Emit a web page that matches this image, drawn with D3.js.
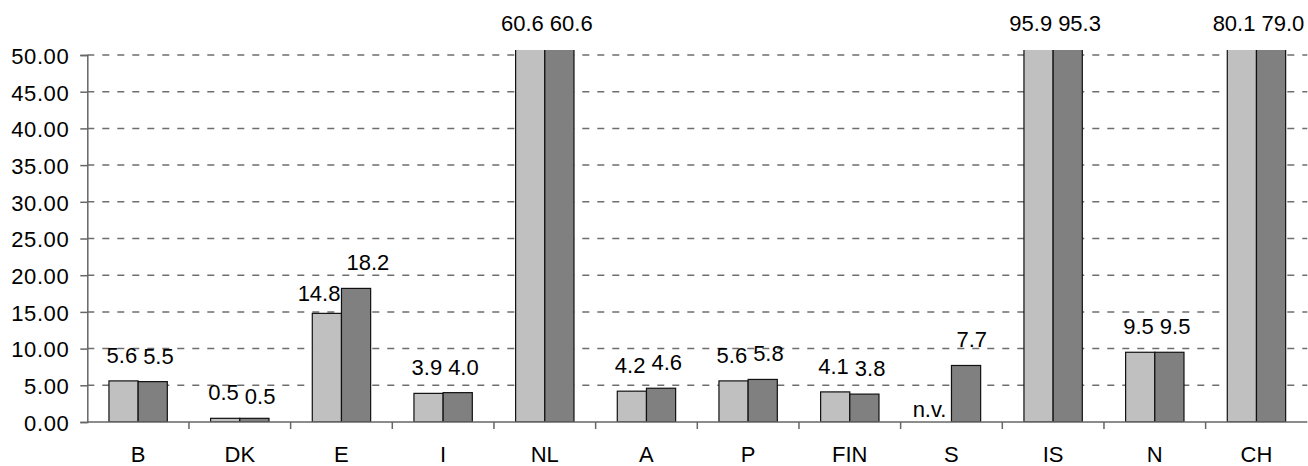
<!DOCTYPE html>
<html>
<head>
<meta charset="utf-8">
<script src="https://cdn.jsdelivr.net/npm/d3@7"></script>
<style>
  html, body { margin: 0; padding: 0; background: #fff; }
  svg { display: block; font-family: "Liberation Sans", Arial, sans-serif; }
</style>
</head>
<body>
<svg id="chart" width="1308" height="466"></svg>
<script>
// ---- data ----
const categories = ["B", "DK", "E", "I", "NL", "A", "P", "FIN", "S", "IS", "N", "CH"];
const series1 = [5.6, 0.5, 14.8, 3.9, 60.6, 4.2, 5.6, 4.1, null, 95.9, 9.5, 80.1];
const series2 = [5.5, 0.5, 18.2, 4.0, 60.6, 4.6, 5.8, 3.8, 7.7, 95.3, 9.5, 79.0];
const yTicks = [0, 5, 10, 15, 20, 25, 30, 35, 40, 45, 50];
const missingLabel = "n.v.";

// ---- layout ----
const W = 1308, H = 466;
const left = 87.3, right = 1307.3, y0px = 422, y50px = 55, clipTop = 50;
const colors = ["#c0c0c0", "#808080"];
const fs = 22;

const svg = d3.select("#chart");
const x = d3.scaleBand().domain(categories).range([left, right]).padding(0);
const bw = x.bandwidth();
const x1 = d3.scaleBand().domain([0, 1]).range([bw * 0.213, bw * 0.787]).padding(0);
const y = d3.scaleLinear().domain([0, 50]).range([y0px, y50px]);

// gridlines
svg.append("g").selectAll("line").data(yTicks.filter(d => d > 0)).join("line")
  .attr("x1", left).attr("x2", right)
  .attr("y1", d => y(d)).attr("y2", d => y(d))
  .attr("stroke", "#6e6e6e").attr("stroke-width", 1.5)
  .attr("stroke-dasharray", "7,8");

// clip for bars
svg.append("clipPath").attr("id", "plotclip").append("rect")
  .attr("x", left).attr("y", clipTop).attr("width", right - left).attr("height", y0px - clipTop);

const rows = categories.map((c, i) => ({ c, v: [series1[i], series2[i]] }));

const gBars = svg.append("g").attr("clip-path", "url(#plotclip)");
rows.forEach(r => {
  r.v.forEach((v, k) => {
    if (v == null) return;
    gBars.append("rect")
      .attr("x", x(r.c) + x1(k))
      .attr("y", y(v))
      .attr("width", x1.bandwidth())
      .attr("height", y0px - y(v))
      .attr("fill", colors[k])
      .attr("stroke", "#111").attr("stroke-width", 1.2);
  });
});

// y axis
const yAxis = d3.axisLeft(y).tickValues(yTicks).tickFormat(d3.format(".2f")).tickSize(7).tickPadding(11);
const gy = svg.append("g").attr("transform", `translate(${left},0)`).call(yAxis);
gy.select(".domain").attr("stroke", "#666").attr("stroke-width", 1.5);
gy.selectAll(".tick line").attr("stroke", "#666").attr("stroke-width", 1.5);
gy.selectAll(".tick text").attr("font-size", fs).attr("fill", "#000")
  .attr("font-family", "'Liberation Sans', Arial, sans-serif")
  .attr("letter-spacing", "0.6px").attr("dy", "0.38em");

// x axis
const gx = svg.append("g").attr("transform", `translate(0,${y0px})`);
gx.append("line").attr("x1", left).attr("x2", right).attr("y1", 0).attr("y2", 0)
  .attr("stroke", "#666").attr("stroke-width", 1.5);
gx.selectAll("line.tk").data(categories.slice(1)).join("line").attr("class", "tk")
  .attr("x1", d => x(d)).attr("x2", d => x(d)).attr("y1", 0).attr("y2", 7)
  .attr("stroke", "#666").attr("stroke-width", 1.5);
gx.selectAll("text").data(categories).join("text")
  .attr("x", d => x(d) + bw / 2).attr("y", 40)
  .attr("text-anchor", "middle").attr("font-size", fs).attr("fill", "#000")
  .text(d => d);

// value labels
const fmt = d3.format(".1f");
const nudge = { "E-0": 6, "DK-1": 4 };
const gl = svg.append("g").attr("font-size", fs).attr("fill", "#000");
rows.forEach(r => {
  const mid = x(r.c) + x1(1);
  r.v.forEach((v, k) => {
    if (v == null) {
      gl.append("text").attr("x", mid - 5).attr("y", y(0) - 5)
        .attr("text-anchor", "end").text(missingLabel);
      return;
    }
    const top = Math.max(y(v), clipTop);
    let yy = v > 50 ? 31 : top - 18;
    yy += nudge[r.c + "-" + k] || 0;
    gl.append("text")
      .attr("x", k === 0 ? mid - 1 : mid + 5)
      .attr("y", yy)
      .attr("text-anchor", k === 0 ? "end" : "start")
      .text(fmt(v));
  });
});
</script>
</body>
</html>
